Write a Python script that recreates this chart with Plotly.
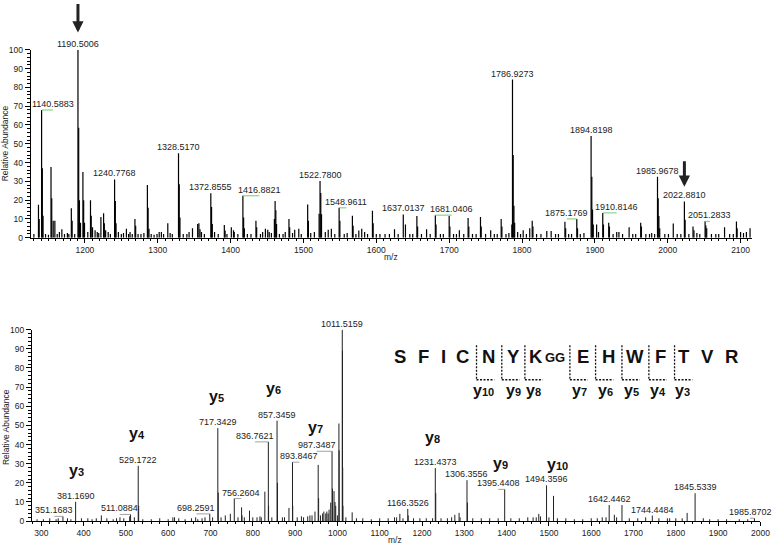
import plotly.graph_objects as go

W, H = 781, 550
FONT = "Arial, Liberation Sans, sans-serif"

# ---------------- TOP SPECTRUM (MS1) ----------------
top_lab_mz = [1140.5883, 1190.5006, 1240.7768, 1328.5170, 1372.8555, 1416.8821,
              1522.7800, 1548.9611, 1637.0137, 1681.0406, 1786.9273, 1875.1769,
              1894.8198, 1910.8146, 1985.9678, 2022.8810, 2051.2833]
top_lab_int = [68, 100, 31, 45, 23.7, 22.3, 30.2, 15.9, 12.4, 12, 84.2, 10,
               54.2, 13.2, 32.4, 19.3, 8.7]
top_lab_text = ["1140.5883", "1190.5006", "1240.7768", "1328.5170", "1372.8555",
                "1416.8821", "1522.7800", "1548.9611", "1637.0137", "1681.0406",
                "1786.9273", "1875.1769", "1894.8198", "1910.8146", "1985.9678",
                "2022.8810", "2051.2833"]
# horizontal label offset (m/z units) -> connector drawn when non-zero
top_lab_dx = [15.6, 0, 0, 0, 0, 22.5, 0, 9.9, 0, 22.4, 0, -13.7, 0, 19.1, 0, 0, 6.6]

top_peak_mz = [1136.3, 1137.3, 1141.6, 1142.6, 1153.5, 1154.5, 1156.5, 1158.8, 1168.4,
               1181.4, 1182.5, 1191.5, 1192.5, 1194.0, 1197.3, 1198.3, 1199.5, 1207.7,
               1208.7, 1210.5, 1214.0, 1222.0, 1225.7, 1226.7, 1228.5, 1241.8, 1242.8,
               1257.0, 1268.7, 1269.7, 1285.8, 1286.8, 1288.0, 1313.8, 1329.5, 1330.5,
               1347.7, 1354.8, 1356.5, 1358.0, 1373.9, 1374.9, 1391.4, 1392.5, 1401.0,
               1404.0, 1417.9, 1418.9, 1434.8, 1435.8, 1447.8, 1451.0, 1460.1, 1461.1,
               1462.1, 1463.1, 1480.1, 1481.1, 1488.0, 1493.6, 1505.8, 1506.8, 1521.5,
               1523.8, 1524.8, 1534.0, 1538.3, 1550.0, 1567.2, 1568.2, 1576.0, 1580.0,
               1594.7, 1595.7, 1625.0, 1640.0, 1655.7, 1656.7, 1669.0, 1682.0, 1700.0,
               1701.0, 1714.0, 1726.0, 1727.0, 1743.0, 1744.0, 1757.0, 1771.4, 1772.4,
               1786.0, 1787.9, 1788.9, 1789.9, 1801.6, 1810.6, 1814.0, 1815.0, 1834.0,
               1840.0, 1858.9, 1859.9, 1876.2, 1895.8, 1896.8, 1897.8, 1902.4, 1911.8,
               1919.0, 1920.0, 1947.0, 1962.9, 1963.9, 1986.9, 1987.9, 1989.0, 2007.6,
               2023.9, 2034.7, 2036.0, 2052.3, 2053.5, 2078.0, 2094.3, 2095.3, 2113.0]
top_peak_int = [17.6, 10, 37, 11.7, 37.7, 21, 9, 9, 4.5,
                15.7, 9, 58.5, 20, 8, 35, 20, 8, 20,
                11.7, 5.6, 4, 11, 13, 7.7, 4, 19.5, 7.7,
                4.7, 10, 6.4, 28, 16, 4.7, 7.7, 28.5, 10.8,
                5, 7.3, 7.7, 4.5, 16.3, 7.3, 6.8, 3.8, 5.6,
                4, 10.8, 5, 9, 5.6, 4.7, 4.2, 10, 19.5,
                14.6, 7.3, 10, 5.6, 4.2, 4.7, 17.7, 9, 12.7,
                23.8, 12.5, 4.2, 4.7, 9, 11.7, 6.4, 3.8, 4.7,
                14.3, 7.7, 4.5, 7, 11.5, 6, 4.5, 7, 11.5,
                6, 4, 10.5, 6, 11, 6, 4, 10, 6,
                7, 44, 17, 8, 4, 5, 9, 6, 3.5,
                3.5, 8.5, 5, 5, 32.4, 15, 7, 7, 7,
                8, 6, 5.5, 8, 6, 21, 11.5, 5, 7.5,
                9.5, 6, 4, 6.5, 5, 5.5, 8.6, 5, 5]
top_noise_mz = [1130, 1146, 1150, 1162, 1165, 1172, 1176, 1178, 1186, 1204, 1217, 1219,
                1232, 1235, 1246, 1250, 1253, 1260, 1262, 1265, 1273, 1277, 1281, 1291,
                1295, 1299, 1302, 1305, 1308, 1317, 1320, 1335, 1340, 1343, 1360, 1364,
                1378, 1383, 1395, 1405, 1410, 1423, 1428, 1441, 1444, 1453, 1456, 1467,
                1472, 1475, 1485, 1497, 1510, 1515, 1530, 1543, 1556, 1560, 1572, 1584,
                1588, 1600, 1605, 1612, 1618, 1630, 1646, 1650, 1662, 1674, 1688, 1692,
                1706, 1710, 1720, 1732, 1737, 1750, 1762, 1766, 1778, 1782, 1794, 1798,
                1806, 1820, 1826, 1846, 1850, 1864, 1868, 1880, 1885, 1905, 1925, 1930,
                1933, 1938, 1952, 1956, 1970, 1975, 1978, 1982, 1996, 2001, 2013, 2018,
                2029, 2040, 2044, 2060, 2066, 2070, 2085, 2090, 2100, 2104, 2108]
top_noise_int = [2, 2, 1.5, 2, 3, 2, 2.5, 2, 2, 3, 3, 2.5,
                 3, 2, 3, 2, 2.5, 2, 3, 2, 2, 2, 2.5, 2,
                 1.5, 2, 3, 3, 2, 2.5, 2, 2, 2, 3, 3, 2,
                 3, 2, 2, 3, 2, 2, 2, 2, 3, 3, 2.5, 2,
                 2, 3, 2.5, 2, 2.5, 3, 3, 2, 2, 2.5, 2, 3,
                 2, 2, 2, 2, 2, 2, 2, 2, 2, 2, 2, 2,
                 2, 2, 2, 2, 2, 2, 2, 2, 2, 2.5, 3, 2,
                 2, 2, 2, 2, 2, 2, 2, 2, 2.5, 3, 2, 3,
                 3, 2, 2, 2, 2, 2, 2.5, 2, 2, 2, 2, 2,
                 2, 2.5, 2, 2, 2, 2, 2, 2, 3, 2.5, 3]

# ---------------- BOTTOM SPECTRUM (MS2) ----------------
bot_lab_mz = [351.1683, 381.1690, 511.0884, 529.1722, 698.2591, 717.3429, 756.2604,
              836.7621, 857.3459, 893.8467, 987.3487, 1011.5159, 1166.3526, 1231.4373,
              1306.3556, 1395.4408, 1494.3596, 1642.4462, 1744.4484, 1845.5339, 1985.8702]
bot_lab_int = [2.5, 10.1, 3.5, 28.9, 3.8, 48.6, 11.8, 41.4, 52.5, 30.8, 36.5, 100,
               6.4, 27.7, 21.4, 16.6, 18.7, 8.4, 2.9, 14.6, 1.5]
bot_lab_text = ["351.1683", "381.1690", "511.0884", "529.1722", "698.2591", "717.3429",
                "756.2604", "836.7621", "857.3459", "893.8467", "987.3487", "1011.5159",
                "1166.3526", "1231.4373", "1306.3556", "1395.4408", "1494.3596",
                "1642.4462", "1744.4484", "1845.5339", "1985.8702"]
bot_lab_dx = [-20.3, 0, -25.7, 0, -31.5, 0, 16.3, -31.5, 0, 16.3, -36.4, 0,
              0, 0, 0, -15.2, 0, 0, 0, 0, -10.5]

bot_peak_mz = [442, 486, 509, 530.2, 611, 665, 687, 718.35, 746.9, 773.5, 774.5, 792.2,
               816.9, 828.5, 837.3, 858.35, 885.5, 894.35, 929.8, 947, 954.6, 955.6,
               972.5, 980.3, 984.2, 988.35, 992.0, 994.3, 996, 1003.6, 1004.1, 1012.0,
               1012.5, 1013.0, 1034.9, 1147.6, 1167.35, 1232.44, 1277.6, 1287.6, 1307.36,
               1462.6, 1476, 1510.9, 1614.3, 1626, 1654.7, 1672.7, 1728.7, 1785.4,
               1826.7, 1865]
bot_peak_int = [3, 2, 2.5, 8, 2, 2, 2, 14.9, 3.8, 7.2, 3, 5.5,
                2.5, 15.4, 8, 20, 6.9, 8, 2.5, 5, 29.4, 12,
                4, 6, 9.7, 17, 15.7, 10, 8, 51, 37, 89,
                28, 8, 4.6, 3.8, 3, 14.6, 3.3, 4.3, 9.7,
                2, 3.8, 13.2, 1.5, 2, 3.3, 8.4, 2, 1.5,
                4.3, 1.5]
bot_noise_mz = [290, 305, 320, 335, 340, 362, 370, 395, 410, 420, 430, 455, 470, 478,
                495, 520, 540, 560, 580, 600, 615, 625, 640, 655, 670, 680, 705, 725,
                735, 765, 780, 800, 810, 820, 845, 870, 875, 905, 915, 920, 935, 940,
                960, 965, 968, 975, 978, 1000, 1020, 1045, 1060, 1080, 1100, 1120,
                1135, 1140, 1155, 1180, 1195, 1210, 1225, 1245, 1260, 1270, 1290, 1320,
                1340, 1360, 1380, 1410, 1430, 1450, 1470, 1480, 1500, 1520, 1540, 1560,
                1580, 1600, 1635, 1660, 1690, 1710, 1760, 1780, 1800, 1815, 1880, 1900,
                1920, 1950, 1970]
bot_noise_int = [1, 1, 1.5, 1, 1.5, 1.5, 1, 1.5, 1.5, 1, 1.5, 1.5, 1, 1.5,
                 1.5, 2, 1, 1, 1.5, 1, 2, 1.5, 1, 1.5, 1, 1.5, 2, 2,
                 3, 2, 2, 2, 2, 2, 2, 2, 2, 2, 2.5, 2, 3, 3,
                 3, 4, 5, 5, 4, 3, 2, 1.5, 1.5, 1, 1.5, 1.5,
                 2, 2, 1.5, 1.5, 1.5, 1.5, 1.5, 1.5, 1.5, 2, 2, 1.5,
                 1.5, 1.5, 1.5, 1.5, 1.5, 2, 2, 2.5, 2, 1.5, 1.5, 1,
                 1, 1.5, 2, 2, 1.5, 1.5, 1.5, 1.5, 1.5, 1.5, 1, 1,
                 1, 1, 1]

# y-ion annotations in the MS2 spectrum
ion_names = ["3", "4", "5", "6", "7", "8", "9", "10"]
ion_mz = [381.1690, 529.1722, 717.3429, 857.3459, 987.3487, 1231.4373, 1395.4408, 1494.3596]

# peptide sequence
seq_letters = ["S", "F", "I", "C", "N", "Y", "K", "E", "H", "W", "F", "T", "V", "R"]
seq_ions = ["10", "9", "8", "7", "6", "5", "4", "3"]


def sticks(mz, inten):
    xs, ys = [], []
    for m, h in zip(mz, inten):
        xs += [m, m, None]
        ys += [0, h, None]
    return xs, ys


def connectors(mz, inten, dx):
    xs, ys = [], []
    for m, h, d in zip(mz, inten, dx):
        if d:
            xs += [m, m + d, None]
            ys += [h, h, None]
    return xs, ys


fig = go.Figure()

# top spectrum
for mz, it in [(top_noise_mz, top_noise_int), (top_peak_mz, top_peak_int), (top_lab_mz, top_lab_int)]:
    xs, ys = sticks(mz, it)
    fig.add_trace(go.Scatter(x=xs, y=ys, mode="lines", line=dict(color="#000", width=1.2),
                             xaxis="x", yaxis="y", hoverinfo="skip", showlegend=False))
cx, cy = connectors(top_lab_mz, top_lab_int, top_lab_dx)
fig.add_trace(go.Scatter(x=cx, y=cy, mode="lines", line=dict(color="#6ccf6c", width=1),
                         xaxis="x", yaxis="y", hoverinfo="skip", showlegend=False))

# bottom spectrum
for mz, it in [(bot_noise_mz, bot_noise_int), (bot_peak_mz, bot_peak_int), (bot_lab_mz, bot_lab_int)]:
    xs, ys = sticks(mz, it)
    fig.add_trace(go.Scatter(x=xs, y=ys, mode="lines", line=dict(color="#222", width=1),
                             xaxis="x2", yaxis="y2", hoverinfo="skip", showlegend=False))
cx, cy = connectors(bot_lab_mz, bot_lab_int, bot_lab_dx)
fig.add_trace(go.Scatter(x=cx, y=cy, mode="lines", line=dict(color="#888", width=0.8),
                         xaxis="x2", yaxis="y2", hoverinfo="skip", showlegend=False))

ann = []
lab_font = dict(family=FONT, size=9, color="#222")
for m, h, t, d in zip(top_lab_mz, top_lab_int, top_lab_text, top_lab_dx):
    ann.append(dict(x=m + d, y=h, xref="x", yref="y", text=t, showarrow=False,
                    xanchor="center", yanchor="bottom", font=lab_font, borderpad=0))
for m, h, t, d in zip(bot_lab_mz, bot_lab_int, bot_lab_text, bot_lab_dx):
    ann.append(dict(x=m + d, y=h, xref="x2", yref="y2", text=t, showarrow=False,
                    xanchor="center", yanchor="bottom", font=lab_font, borderpad=0))


def px(xp):
    return xp / W


def py(yp):
    return (H - yp) / H


# ion labels in spectrum (pixel positions of the label centres)
ion_label_pos = [(77.3, 474), (138.3, 436.7), (219.3, 399), (276.7, 391), (320, 430),
                 (438.3, 440.7), (506.7, 467.3), (565, 468.3)]
for n, (lx, ly) in zip(ion_names, ion_label_pos):
    ann.append(dict(x=px(lx), y=py(ly), xref="paper", yref="paper", showarrow=False,
                    text="<b>y</b><b><span style='font-size:11px'>%s</span></b>" % n,
                    xanchor="center", yanchor="middle",
                    font=dict(family=FONT, size=16, color="#111")))

# sequence letters
seq_x = [405, 429.3, 449, 468.3, 495, 520, 543.3, 590.7, 616, 643.3, 669.3, 693.3, 716.7, 740.7]
for L, sx in zip(seq_letters, seq_x):
    ann.append(dict(x=px(sx), y=py(357.5), xref="paper", yref="paper", showarrow=False,
                    text="<b>%s</b>" % L, xanchor="center", yanchor="middle",
                    font=dict(family=FONT, size=18.5, color="#111")))
ann.append(dict(x=px(561.7), y=py(359), xref="paper", yref="paper", showarrow=False,
                text="<b>GG</b>", xanchor="center", yanchor="middle",
                font=dict(family=FONT, size=13, color="#111")))

# sequence fragment markers
mark_x = [482.7, 508.3, 531.7, 577.3, 603.3, 630, 657.3, 683.3]
seq_ion_x = [490, 520, 540, 586.7, 613.3, 640, 666.7, 691.7]
shapes = []
for mx in mark_x:
    shapes.append(dict(type="line", xref="paper", yref="paper", x0=px(mx), x1=px(mx),
                       y0=py(346.5), y1=py(381.7),
                       line=dict(color="#111", width=1.3, dash="2px,1.5px")))
    shapes.append(dict(type="line", xref="paper", yref="paper", x0=px(mx), x1=px(mx + 18),
                       y0=py(381.7), y1=py(381.7),
                       line=dict(color="#111", width=1.3, dash="2px,1.5px")))
for n, sx in zip(seq_ions, seq_ion_x):
    ann.append(dict(x=px(sx), y=py(392.7), xref="paper", yref="paper", showarrow=False,
                    text="<b>y</b><b><span style='font-size:11px'>%s</span></b>" % n,
                    xanchor="center", yanchor="middle",
                    font=dict(family=FONT, size=16, color="#111")))

# arrows marking precursors
for m, tip, length in [(1190.5006, 28, 30), (2022.8810, 185, 27)]:
    ann.append(dict(x=m, y=py(tip), xref="x", yref="paper", text="", showarrow=True,
                    ax=0, ay=-length, arrowhead=2, arrowsize=0.75, arrowwidth=3,
                    arrowcolor="#222", standoff=0))

# axis titles
tfont = dict(family=FONT, size=8.5, color="#222")
ann.append(dict(x=px(6), y=py(141), xref="paper", yref="paper", text="Relative Abundance",
                textangle=-90, showarrow=False, xanchor="center", yanchor="middle", font=tfont))
ann.append(dict(x=px(6), y=py(430), xref="paper", yref="paper", text="Relative Abundance",
                textangle=-90, showarrow=False, xanchor="center", yanchor="middle", font=tfont))
ann.append(dict(x=px(396), y=py(256.7), xref="paper", yref="paper", text="m/z",
                showarrow=False, xanchor="center", yanchor="middle", font=tfont))
ann.append(dict(x=px(400), y=py(544.5), xref="paper", yref="paper", text="m/z",
                showarrow=False, xanchor="center", yanchor="middle", font=tfont))

axis_common = dict(showline=True, linecolor="#000", linewidth=1, ticks="outside",
                   tickcolor="#000", tickwidth=1, showgrid=False, zeroline=False,
                   tickfont=dict(family=FONT, size=8.5, color="#222"), fixedrange=True)

fig.update_layout(
    width=W, height=H, margin=dict(l=0, r=0, t=0, b=0),
    paper_bgcolor="white", plot_bgcolor="white", showlegend=False,
    xaxis=dict(domain=[px(31), px(761.7)], range=[1125.5, 2115.6], anchor="y",
               dtick=100, tick0=0, ticklen=4,
               minor=dict(dtick=10, tick0=0, ticklen=2, ticks="outside", tickcolor="#000"),
               **axis_common),
    yaxis=dict(domain=[py(237), py(45.7)], range=[0, 100], anchor="x",
               dtick=10, ticklen=5,
               minor=dict(dtick=2, ticklen=2.5, ticks="outside", tickcolor="#000"),
               **axis_common),
    xaxis2=dict(domain=[px(32.3), px(770.3)], range=[277.8, 2000], anchor="y2",
                dtick=100, tick0=0, ticklen=4,
                minor=dict(dtick=20, tick0=0, ticklen=2, ticks="outside", tickcolor="#000"),
                **axis_common),
    yaxis2=dict(domain=[py(525.7), py(330.7)], range=[0, 100], anchor="x2",
                dtick=10, ticklen=5,
                minor=dict(dtick=2, ticklen=2.5, ticks="outside", tickcolor="#000"),
                **axis_common),
    annotations=ann, shapes=shapes,
)

fig.write_html("out.html", config={"displayModeBar": False, "staticPlot": True},
               post_script="document.body.style.margin='0';document.body.style.overflow='hidden';")
